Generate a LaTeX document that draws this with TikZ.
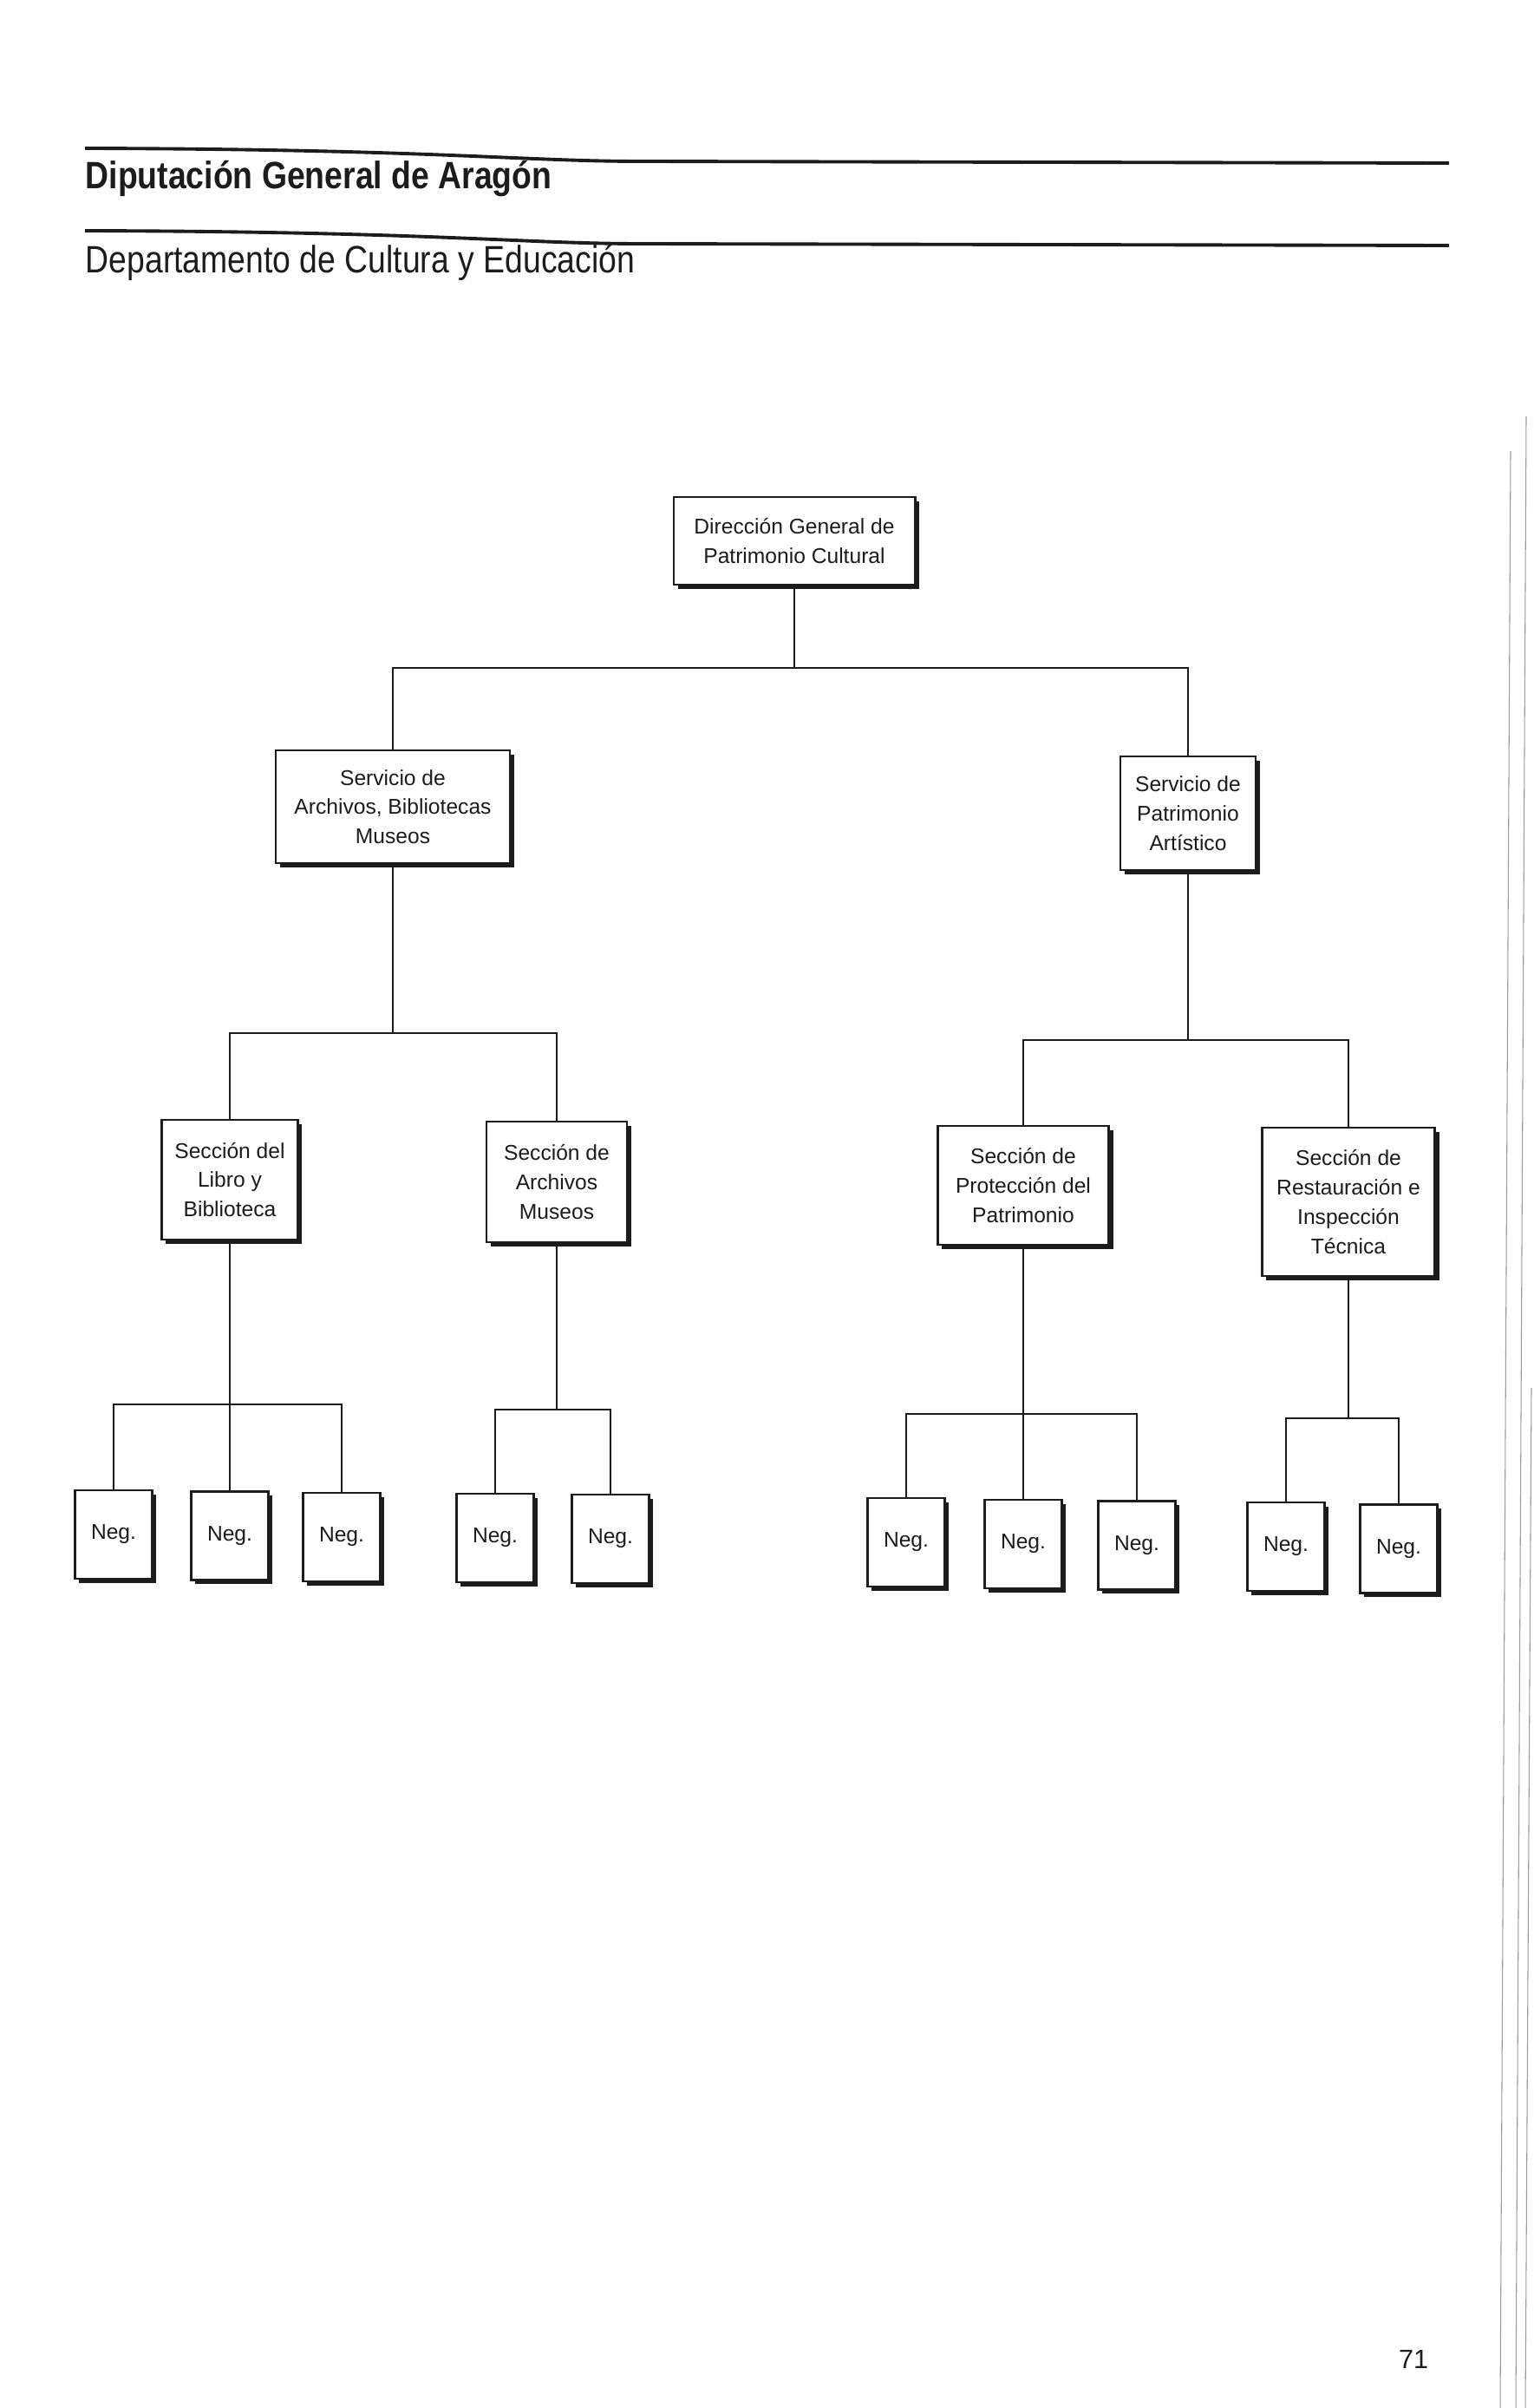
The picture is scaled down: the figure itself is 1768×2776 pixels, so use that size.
\documentclass[tikz,border=0pt]{standalone}
\usepackage{fontspec}
\setmainfont{Liberation Sans}
\newfontfamily\titlefont[FakeStretch=0.85]{Liberation Sans}
\usetikzlibrary{shadows}
\definecolor{Ink}{HTML}{1C1C1C}
\definecolor{Scan}{HTML}{9A9A9A}
\tikzset{
  orgbox/.style={draw=Ink,fill=white,line width=0.8pt,inner sep=0pt,align=center,font=\fontsize{7}{9.6}\selectfont,text=Ink,
    drop shadow={shadow xshift=1.4pt,shadow yshift=-1.4pt,opacity=1,fill=Ink}},
  negbox/.style={orgbox,minimum width=0.89cm,minimum height=1.02cm},
  link/.style={draw=Ink,line width=0.6pt},
  rule/.style={draw=Ink,line width=1.1pt},
  titletext/.style={anchor=base west,inner sep=0pt,font=\titlefont\fontsize{12.5}{15}\selectfont,text=Ink},
  scanline/.style={draw=Scan,line width=0.3pt}
}

\begin{document}
\begin{tikzpicture}[x=0.01cm,y=-0.01cm]
  \useasboundingbox (0,0) rectangle (1768,2776);

  % page heading
  \node[titletext,font=\titlefont\bfseries\fontsize{12.5}{15}\selectfont] (org) at (98,218) {Diputación General de Aragón};
  \node[titletext] (dept) at (98,315) {Departamento de Cultura y Educación};
  \coordinate (r1a) at (98,171);
  \coordinate (r1b) at (740,186);
  \coordinate (r1c) at (1671,188);
  \coordinate (r2a) at (98,266);
  \coordinate (r2b) at (740,281);
  \coordinate (r2c) at (1671,283);
  \draw[rule] (r1a) .. controls (500,172) and (600,186) .. (r1b) -- (r1c);
  \draw[rule] (r2a) .. controls (500,267) and (600,281) .. (r2b) -- (r2c);

  % boxes
  \node[orgbox,minimum width=2.78cm,minimum height=1.01cm] (dir) at (916,623.5) {Dirección General de\\Patrimonio Cultural};
  \node[orgbox,minimum width=2.70cm,minimum height=1.30cm] (serv1) at (453,930) {Servicio de\\Archivos, Bibliotecas\\Museos};
  \node[orgbox,minimum width=1.56cm,minimum height=1.31cm] (serv2) at (1370,937.5) {Servicio de\\Patrimonio\\Artístico};
  \node[orgbox,minimum width=1.57cm,minimum height=1.38cm] (sec1) at (265,1360) {Sección del\\Libro y\\Biblioteca};
  \node[orgbox,minimum width=1.62cm,minimum height=1.39cm] (sec2) at (642,1362.5) {Sección de\\Archivos\\Museos};
  \node[orgbox,minimum width=1.97cm,minimum height=1.37cm] (sec3) at (1180,1366.5) {Sección de\\Protección del\\Patrimonio};
  \node[orgbox,minimum width=1.99cm,minimum height=1.71cm] (sec4) at (1555,1385.5) {Sección de\\Restauración e\\Inspección\\Técnica};

  \node[negbox] (neg1) at (131,1769) {Neg.};
  \node[negbox] (neg2) at (265,1770.5) {Neg.};
  \node[negbox] (neg3) at (394,1772) {Neg.};
  \node[negbox] (neg4) at (571,1773) {Neg.};
  \node[negbox] (neg5) at (704,1774) {Neg.};
  \node[negbox] (neg6) at (1045,1778) {Neg.};
  \node[negbox] (neg7) at (1180,1780) {Neg.};
  \node[negbox] (neg8) at (1311,1781.5) {Neg.};
  \node[negbox] (neg9) at (1483,1783) {Neg.};
  \node[negbox] (neg10) at (1613,1785.5) {Neg.};

  % connectors
  \coordinate (bus0) at (916,770);
  \coordinate (bus1) at (453,1191);
  \coordinate (bus2) at (1370,1199);
  \coordinate (bus3) at (265,1619);
  \coordinate (bus4) at (642,1625);
  \coordinate (bus5) at (1180,1630);
  \coordinate (bus6) at (1555,1635);
  \draw[link] (dir.south) -- (bus0);
  \draw[link] (serv1.north) |- (bus0) -| (serv2.north);
  \draw[link] (serv1.south) -- (bus1);
  \draw[link] (sec1.north) |- (bus1) -| (sec2.north);
  \draw[link] (serv2.south) -- (bus2);
  \draw[link] (sec3.north) |- (bus2) -| (sec4.north);
  \draw[link] (sec1.south) -- (neg2.north);
  \draw[link] (neg1.north) |- (bus3) -| (neg3.north);
  \draw[link] (sec2.south) -- (bus4);
  \draw[link] (neg4.north) |- (bus4) -| (neg5.north);
  \draw[link] (sec3.south) -- (neg7.north);
  \draw[link] (neg6.north) |- (bus5) -| (neg8.north);
  \draw[link] (sec4.south) -- (bus6);
  \draw[link] (neg9.north) |- (bus6) -| (neg10.north);

  % page number and binding edge
  \node[inner sep=0pt,font=\fontsize{8.7}{10}\selectfont,text=Ink] (pagenum) at (1630,2720) {71};
  \draw[scanline] (1742,520) -- (1730,2776);
  \draw[scanline] (1760,480) -- (1748,2776);
  \draw[scanline] (1766,1600) -- (1759,2776);
\end{tikzpicture}
\end{document}
